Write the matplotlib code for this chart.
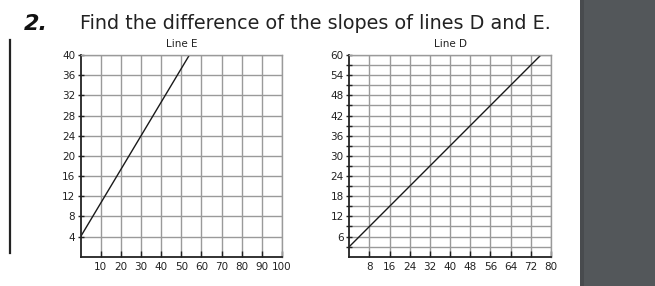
import numpy as np
import matplotlib
matplotlib.use('Agg')
import matplotlib.pyplot as plt
from matplotlib.patches import Rectangle
from matplotlib.lines import Line2D

# Line E: y = 2/3 x + 4
e_x = [0, 54]
e_y = [4, 40]
e_xticks = [10, 20, 30, 40, 50, 60, 70, 80, 90, 100]
e_yticks = [4, 8, 12, 16, 20, 24, 28, 32, 36, 40]

# Line D: y = 3/4 x + 3
d_x = [0, 76]
d_y = [3, 60]
d_xticks = [8, 16, 24, 32, 40, 48, 56, 64, 72, 80]
d_yticks = [6, 12, 18, 24, 30, 36, 42, 48, 54, 60]
d_yminor = [3, 9, 15, 21, 27, 33, 39, 45, 51, 57]

question = "Find the difference of the slopes of lines D and E."

W, H = 655, 286
fig = plt.figure(figsize=(W / 100, H / 100), dpi=100)
fig.patch.set_facecolor('white')


def px_axes(left, top, right, bottom):
    return fig.add_axes([left / W, 1 - bottom / H, (right - left) / W, (bottom - top) / H])


def style(ax, title, xmax, ymax):
    ax.set_xlim(0, xmax)
    ax.set_ylim(0, ymax)
    ax.grid(True, which='both', color='#9a9a9a', lw=1.0)
    ax.set_axisbelow(True)
    for s in ('top', 'right'):
        ax.spines[s].set_color('#9a9a9a')
        ax.spines[s].set_linewidth(1.0)
    for s in ('left', 'bottom'):
        ax.spines[s].set_color('#222222')
        ax.spines[s].set_linewidth(1.3)
    ax.tick_params(axis='both', which='major', labelsize=7.5, length=3,
                   width=1, color='#222222', pad=1.5, labelcolor='#222222')
    ax.tick_params(axis='y', which='both', direction='inout', length=5)
    ax.tick_params(axis='x', which='both', direction='in', length=4, pad=4)
    ax.set_title(title, fontsize=7.5, pad=6, color='#222222')


ax_e = px_axes(80.7, 55, 282, 256.7)
style(ax_e, 'Line E', 100, 40)
ax_e.set_xticks(e_xticks)
ax_e.set_yticks(e_yticks)
ax_e.plot(e_x, e_y, color='#1a1a1a', lw=1.0)

ax_d = px_axes(349.3, 55, 551, 256.7)
style(ax_d, 'Line D', 80, 60)
ax_d.set_xticks(d_xticks)
ax_d.set_yticks(d_yticks)
ax_d.set_yticks(d_yminor, minor=True)
ax_d.tick_params(axis='y', which='minor', length=4, width=1, color='#222222')
ax_d.plot(d_x, d_y, color='#1a1a1a', lw=1.0)

# header
fig.text(24 / W, 1 - 30 / H, '2.', fontsize=16, fontweight='bold',
         fontstyle='italic', color='#111111', ha='left', va='baseline')
fig.text(80 / W, 1 - 29 / H, question, fontsize=13.8, color='#222222',
         ha='left', va='baseline')

# margin rule on the left
fig.add_artist(Line2D([10 / W, 10 / W], [1 - 40 / H, 1 - 253 / H],
                      color='#222222', lw=1.6))

# dark side panel
fig.add_artist(Rectangle((580 / W, 0), 75 / W, 1, transform=fig.transFigure,
                         facecolor='#53575a', edgecolor='none'))
fig.add_artist(Rectangle((580 / W, 0), 4 / W, 1, transform=fig.transFigure,
                         facecolor='#484b4e', edgecolor='none'))

fig.savefig('out.png', dpi=100)
